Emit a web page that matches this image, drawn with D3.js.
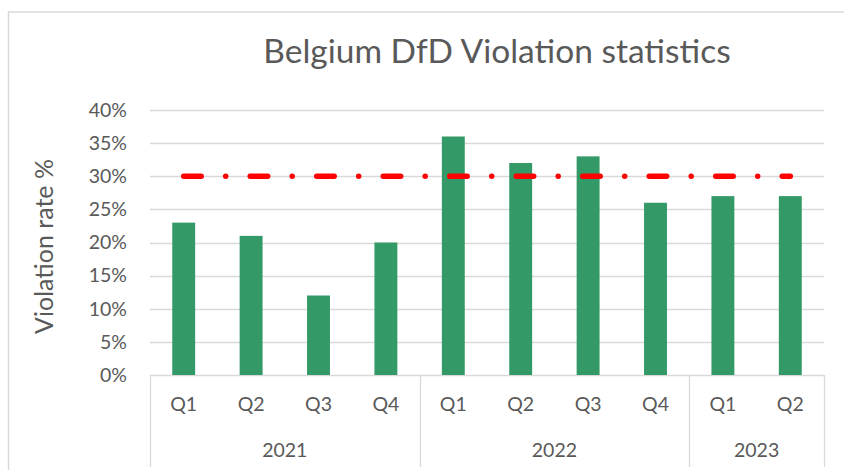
<!DOCTYPE html>
<html>
<head>
<meta charset="utf-8">
<script src="https://cdn.jsdelivr.net/npm/d3@7"></script>
<style>
  html, body { margin: 0; padding: 0; background: #fff; }
  svg { display: block; font-family: Lato, "Open Sans", sans-serif; }
</style>
</head>
<body>
<div id="chart"></div>
<script>
const quarters = ["Q1", "Q2", "Q3", "Q4", "Q1", "Q2", "Q3", "Q4", "Q1", "Q2"];
const years = ["2021", "2022", "2023"];
const quartersPerYear = [4, 4, 2];
const violationRates = [23, 21, 12, 20, 36, 32, 33, 26, 27, 27];
const targetRate = 30;
const yTicks = [0, 5, 10, 15, 20, 25, 30, 35, 40];

const width = 844, height = 470;
const margin = { left: 150, right: 20, top: 110, bottom: 95 };
const textColor = "#595959";
const gridColor = "#d9d9d9";

const svg = d3.select("#chart").append("svg")
    .attr("width", width)
    .attr("height", height);

// chart border
svg.append("rect")
    .attr("x", 8.5).attr("y", 12)
    .attr("width", width + 20).attr("height", height + 20)
    .style("fill", "none")
    .style("stroke", gridColor)
    .style("stroke-width", 1.5);

const x = d3.scaleBand()
    .domain(d3.range(quarters.length))
    .range([margin.left, width - margin.right])
    .paddingInner(0.66)
    .paddingOuter(0.33);

const y = d3.scaleLinear()
    .domain([0, 40])
    .range([height - margin.bottom, margin.top]);

// gridlines
svg.append("g")
    .selectAll("line")
    .data(yTicks)
    .enter().append("line")
    .attr("x1", margin.left)
    .attr("x2", width - margin.right)
    .attr("y1", d => Math.round(y(d)) + 0.5)
    .attr("y2", d => Math.round(y(d)) + 0.5)
    .style("stroke", gridColor)
    .style("stroke-width", 1.3);

// y axis labels
const yAxis = d3.axisLeft(y)
    .tickValues(yTicks)
    .tickFormat(d => d + "%")
    .tickSize(0)
    .tickPadding(23);

svg.append("g")
    .attr("class", "y axis")
    .attr("transform", `translate(${margin.left},0)`)
    .call(yAxis)
    .call(g => g.select(".domain").remove())
    .selectAll("text")
    .style("font-family", "Lato, sans-serif")
    .style("font-size", "19.5px")
    .style("fill", textColor);

// bars
svg.append("g")
    .selectAll("rect")
    .data(violationRates)
    .enter().append("rect")
    .attr("x", (d, i) => x(i))
    .attr("y", d => y(d))
    .attr("width", x.bandwidth())
    .attr("height", d => y(0) - y(d))
    .style("fill", "#339966");

// target line
const step = x.step();
const targetLine = d3.line()
    .x(d => x(d) + x.bandwidth() / 2)
    .y(() => y(targetRate));

svg.append("path")
    .attr("d", targetLine([0, quarters.length - 1]))
    .style("fill", "none")
    .style("stroke", "#ff0000")
    .style("stroke-width", 5.5)
    .style("stroke-linecap", "round")
    .style("stroke-dasharray", "17.5,24.5,0,24.5");

// category axis: quarter labels, year labels and separators
const baseY = y(0);
svg.append("g")
    .selectAll("text")
    .data(quarters)
    .enter().append("text")
    .attr("x", (d, i) => x(i) + x.bandwidth() / 2)
    .attr("y", baseY + 36)
    .attr("text-anchor", "middle")
    .style("font-size", "19.5px")
    .style("fill", textColor)
    .text(d => d);

const starts = [0];
quartersPerYear.forEach((n, i) => starts.push(starts[i] + n));
const boundaryX = starts.map(s => margin.left + s * step);

svg.append("g")
    .selectAll("line")
    .data(boundaryX)
    .enter().append("line")
    .attr("x1", d => Math.round(d) + 0.5)
    .attr("x2", d => Math.round(d) + 0.5)
    .attr("y1", baseY)
    .attr("y2", 467)
    .style("stroke", gridColor)
    .style("stroke-width", 1.3);

svg.append("g")
    .selectAll("text")
    .data(years)
    .enter().append("text")
    .attr("x", (d, i) => (boundaryX[i] + boundaryX[i + 1]) / 2)
    .attr("y", baseY + 82)
    .attr("text-anchor", "middle")
    .style("font-size", "19.5px")
    .style("fill", textColor)
    .text(d => d);

// title
svg.append("text")
    .attr("x", 497)
    .attr("y", 63)
    .attr("text-anchor", "middle")
    .style("font-size", "33.5px")
    .style("fill", textColor)
    .text("Belgium DfD Violation statistics");

// y axis title
svg.append("text")
    .attr("transform", `translate(53,${(margin.top + height - margin.bottom) / 2 + 4}) rotate(-90)`)
    .attr("text-anchor", "middle")
    .style("font-size", "25px")
    .style("fill", textColor)
    .text("Violation rate %");
</script>
</body>
</html>
